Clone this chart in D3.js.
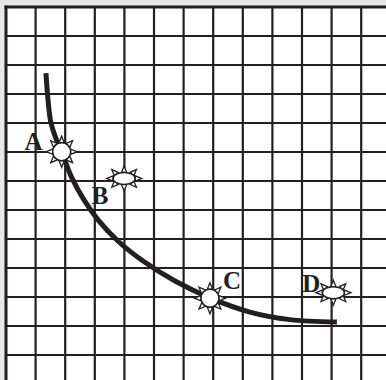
<!DOCTYPE html>
<html>
<head>
<meta charset="utf-8">
<script src="https://cdn.jsdelivr.net/npm/d3@7"></script>
<style>
html,body{margin:0;padding:0;background:#e6e7e8;}
svg{display:block;}
</style>
</head>
<body>
<svg id="chart" width="386" height="380"></svg>
<script>
// grid tick values (grid units)
const gridX = [0,1,2,3,4,5,6,7,8,9,10,11,12];
const gridY = [0,1,2,3,4,5,6,7,8,9,10,11,12];

// curve samples (x, y in grid units, y upward)
const curveX = [1.35, 1.42, 1.52, 1.72, 1.89, 2.23, 2.64, 3.11, 3.78, 4.63, 5.71, 6.89, 8.24, 9.59, 11.18];
const curveY = [9.72, 8.79, 8.00, 7.38, 6.97, 6.10, 5.34, 4.66, 3.93, 3.24, 2.55, 1.97, 1.48, 1.22, 1.14];

// labelled points
const pointNames = ["A", "B", "C", "D"];
const pointX = [1.88, 3.99, 6.89, 11.06];
const pointY = [7.01, 6.09, 1.96, 2.15];
const pointShape = ["circle", "ellipse", "circle", "ellipse"];
const labelDX = [-28, -24, 22, -22];
const labelDY = [-10, 17, -18, -9];

const W = 386, H = 380;
const svg = d3.select("#chart");
const x = d3.scaleLinear().domain([0, 12]).range([6, 361.2]);
const y = d3.scaleLinear().domain([0, 12]).range([355, 7]);
const ink = "#231f20";

// white paper
svg.append("rect").attr("x", x(0)).attr("y", y(12)).attr("width", W - x(0)).attr("height", H - y(12)).attr("fill", "#fff");

// grid
const g = svg.append("g");
g.selectAll("line.v").data(gridX.slice(1)).join("line")
  .attr("x1", d => x(d)).attr("x2", d => x(d))
  .attr("y1", y(12)).attr("y2", H)
  .attr("stroke", ink).attr("stroke-width", 2.2);
g.selectAll("line.h").data(gridY.slice(0, -1)).join("line")
  .attr("y1", d => y(d)).attr("y2", d => y(d))
  .attr("x1", x(0)).attr("x2", W)
  .attr("stroke", ink).attr("stroke-width", 2.2);
// border (left & top)
g.append("line").attr("x1", x(0)).attr("x2", x(0)).attr("y1", y(12) - 1.5).attr("y2", H)
  .attr("stroke", ink).attr("stroke-width", 3);
g.append("line").attr("y1", y(12)).attr("y2", y(12)).attr("x1", x(0) - 1.5).attr("x2", W)
  .attr("stroke", ink).attr("stroke-width", 3);

// curve
const pts = curveX.map((d, i) => [d, curveY[i]]);
svg.append("path")
  .attr("d", d3.line().x(d => x(d[0])).y(d => y(d[1])).curve(d3.curveCatmullRom.alpha(0.5))(pts))
  .attr("fill", "none").attr("stroke", ink).attr("stroke-width", 5);

// markers
pointNames.forEach((name, i) => {
  const cx = x(pointX[i]), cy = y(pointY[i]);
  const rx = pointShape[i] === "circle" ? 9 : 11;
  const ry = pointShape[i] === "circle" ? 9 : 6;
  const mg = svg.append("g").attr("transform", `translate(${cx},${cy})`);
  for (let k = 0; k < 8; k++) {
    const a = k * Math.PI / 4;
    const ca = Math.cos(a), sa = Math.sin(a);
    const bx = rx * ca, by = ry * sa;
    const len = 6.5;
    const tip = [(rx + len) * ca, (ry + len) * sa];
    const hw = 2.6;
    const p1 = [bx - hw * sa, by + hw * ca];
    const p2 = [bx + hw * sa, by - hw * ca];
    mg.append("path")
      .attr("d", `M${p1[0]},${p1[1]}L${tip[0]},${tip[1]}L${p2[0]},${p2[1]}Z`)
      .attr("fill", "#fff").attr("stroke", ink).attr("stroke-width", 1.3).attr("stroke-linejoin", "miter");
  }
  mg.append("ellipse").attr("rx", rx).attr("ry", ry)
    .attr("fill", "#fff").attr("stroke", ink).attr("stroke-width", 1.5);
  svg.append("text")
    .attr("x", cx + labelDX[i]).attr("y", cy + labelDY[i])
    .attr("text-anchor", "middle").attr("dominant-baseline", "central")
    .attr("font-family", "'Liberation Serif', serif").attr("font-weight", "bold")
    .attr("font-size", 25).attr("fill", ink)
    .text(name);
});
</script>
</body>
</html>
